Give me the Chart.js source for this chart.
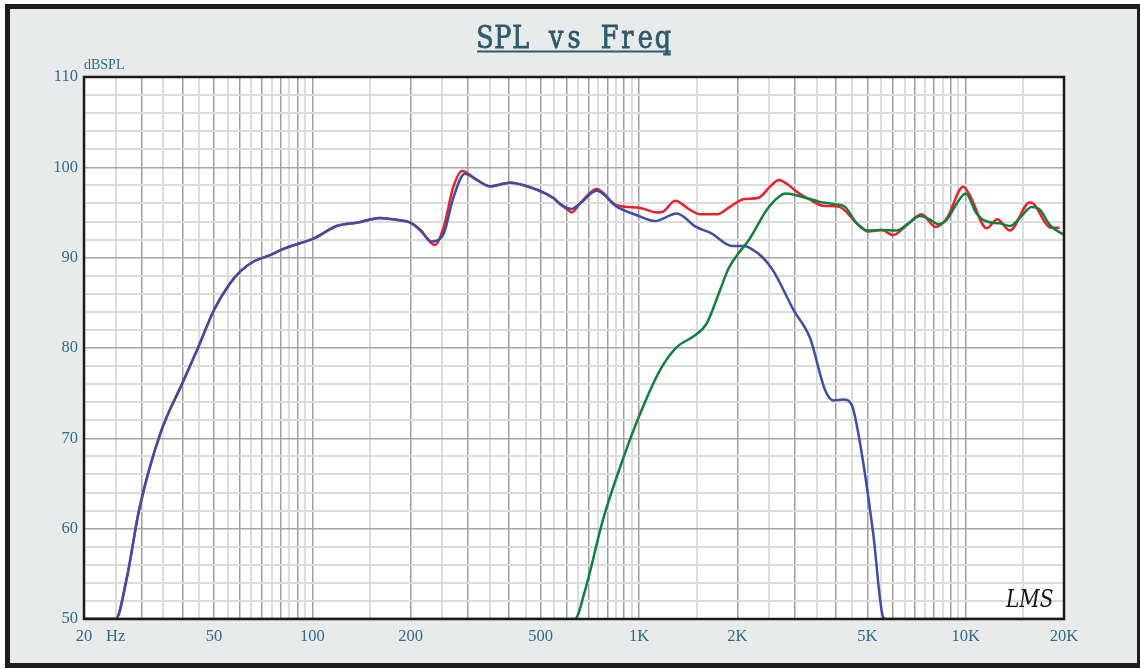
<!DOCTYPE html>
<html>
<head>
<meta charset="utf-8">
<title>SPL vs Freq</title>
<script src="https://cdn.jsdelivr.net/npm/chart.js@4.4.1/dist/chart.umd.min.js"></script>
<style>
	html, body { margin: 0; padding: 0; background: #fff; }
	#cutie { width: 1140px; height: 669px; position: relative; }
</style>
</head>
<body>
<div id="cutie"><canvas id="grafic-spl"></canvas></div>
<script>
// valori (Hz, dBSPL)
const frecvTotal = [20, 25, 27.1, 29.5, 34.3, 40, 44.4, 50, 55.6, 60.3, 66.3, 74.6, 81.9, 91.7, 100.7, 118.7, 138, 161, 181, 199, 214, 237, 252, 270, 287, 319, 350, 403, 464, 547, 573, 601, 622, 660, 742, 854, 1008, 1137, 1187, 1290, 1432, 1540, 1736, 1902, 2099, 2310, 2540, 2680, 2830, 3040, 3330, 3650, 4000, 4200, 4640, 5035, 5530, 6000, 6600, 7330, 8100, 8750, 9830, 10300, 11600, 12500, 13660, 15700, 16100, 18100, 19400];
const splTotal = [50, 50, 54.7, 62.1, 70.6, 76.1, 79.8, 84.2, 87.0, 88.5, 89.6, 90.3, 91.0, 91.6, 92.1, 93.5, 93.9, 94.4, 94.2, 93.9, 93.0, 91.4, 93.3, 97.8, 99.6, 98.6, 97.9, 98.3, 97.8, 96.6, 95.9, 95.4, 95.0, 96.0, 97.6, 95.8, 95.5, 95.0, 95.1, 96.3, 95.3, 94.8, 94.8, 95.65, 96.5, 96.6, 98.0, 98.6, 98.2, 97.3, 96.45, 95.75, 95.7, 95.45, 93.8, 92.9, 93.05, 92.5, 93.6, 94.8, 93.4, 94.35, 97.85, 96.9, 93.25, 94.25, 93.0, 96.1, 96.0, 93.35, 93.3];

const frecvWoofer = [20, 25, 27.1, 29.5, 34.3, 40, 44.4, 50, 55.6, 60.3, 66.3, 74.6, 81.9, 91.7, 100.7, 118.7, 138, 161, 181, 199, 214, 232, 252, 270, 293, 319, 350, 403, 464, 547, 573, 601, 622, 660, 742, 854, 984, 1120, 1305, 1495, 1666, 1925, 2099, 2200, 2380, 2572, 2974, 3339, 3712, 3934, 4226, 4479, 4750, 5210, 5590, 5700, 20000];
const splWoofer = [50, 50, 54.7, 62.1, 70.6, 76.1, 79.8, 84.2, 87.0, 88.5, 89.6, 90.3, 91.0, 91.6, 92.1, 93.5, 93.9, 94.4, 94.2, 93.9, 93.1, 91.8, 92.6, 96.6, 99.3, 98.6, 97.9, 98.3, 97.8, 96.6, 96.0, 95.5, 95.4, 96.0, 97.4, 95.65, 94.7, 94.05, 94.9, 93.4, 92.7, 91.3, 91.3, 91.0, 90.1, 88.6, 84.2, 81.1, 75.35, 74.2, 74.3, 73.7, 69.45, 59.5, 50.2, 50, 50];

const frecvTweeter = [20, 636, 684, 776, 899, 1010, 1162, 1305, 1470, 1610, 1770, 1880, 1990, 2182, 2462, 2680, 2815, 3149, 3557, 4020, 4268, 4638, 5035, 5530, 6150, 6680, 7250, 7780, 8250, 8750, 9390, 10000, 10800, 11600, 12740, 13660, 14660, 15920, 16870, 18120, 20000];
const splTweeter = [50, 50, 53.2, 61.0, 68.0, 72.8, 77.6, 80.1, 81.3, 82.7, 86.4, 88.8, 90.2, 92.1, 95.3, 96.75, 97.1, 96.75, 96.2, 95.9, 95.65, 93.8, 93.0, 93.05, 93.0, 93.8, 94.6, 94.2, 93.7, 94.2, 96.0, 97.1, 94.9, 94.0, 93.8, 93.5, 94.4, 95.6, 95.3, 93.6, 92.5];

// etichete axa X
const frecvEtichete = [20, 25, 50, 100, 200, 500, 1000, 2000, 5000, 10000, 20000];
const textEtichete = ['20', 'Hz', '50', '100', '200', '500', '1K', '2K', '5K', '10K', '20K'];

// liniile verticale ale grilei: 20..95 din 5 in 5, 100..950 din 50 in 50 etc.
let frecvGrila = [];
for (let dec = 10; dec <= 10000; dec *= 10) {
	for (let m = 1; m < 10; m += 0.5) {
		const f = Math.round(m * dec);
		if (f >= 20 && f <= 20000) frecvGrila.push(f);
	}
}

const culoareText = '#2f6b8a';

function puncte(frecv, spl) {
	return frecv.map((f, i) => ({ x: f, y: spl[i] }));
}

function ePrincipala(f) {
	const p = Math.pow(10, Math.floor(Math.log10(f) + 1e-9));
	return Math.abs(f / p - Math.round(f / p)) < 1e-6;
}

const decor = {
	id: 'decor',
	beforeDraw(chart) {
		const ctx = chart.ctx, a = chart.chartArea;
		ctx.save();
		ctx.fillStyle = '#ffffff';
		ctx.fillRect(0, 0, chart.width, chart.height);
		ctx.fillStyle = '#e9ebea';
		ctx.fillRect(7.5, 6.5, 1132, 659);
		ctx.lineWidth = 5;
		ctx.strokeStyle = '#1f1d1e';
		ctx.strokeRect(7.5, 6.5, 1132, 659);
		ctx.fillStyle = '#ffffff';
		ctx.fillRect(a.left, a.top, a.right - a.left, a.bottom - a.top);
		ctx.restore();
	},
	afterDraw(chart) {
		const ctx = chart.ctx, a = chart.chartArea;
		ctx.save();
		// rama zonei de desen
		ctx.lineWidth = 2.5;
		ctx.strokeStyle = '#1a1a1a';
		ctx.strokeRect(a.left, a.top, a.right - a.left, a.bottom - a.top);

		// titlul, litera cu litera ca la un font monospace, subliniat
		const titlu = 'SPL vs Freq';
		const pas = 17.8;
		const lat = pas * titlu.length;
		const x0 = (a.left + a.right) / 2 - lat / 2;
		ctx.font = '31px "DejaVu Serif"';
		ctx.fillStyle = '#2f5a6f';
		ctx.strokeStyle = '#2f5a6f';
		ctx.lineWidth = 0.9;
		ctx.textAlign = 'center';
		ctx.textBaseline = 'alphabetic';
		for (let i = 0; i < titlu.length; i++) {
			ctx.save();
			ctx.translate(x0 + pas * (i + 0.5), 48);
			ctx.scale(0.82, 1);
			ctx.fillText(titlu[i], 0, 0);
			ctx.strokeText(titlu[i], 0, 0);
			ctx.restore();
		}
		ctx.fillRect(x0 + 1, 50.5, lat - 2, 2);

		// unitatea axei Y
		ctx.textAlign = 'left';
		ctx.font = '14px "Liberation Serif"';
		ctx.fillStyle = culoareText;
		ctx.fillText('dBSPL', a.left, 69);

		// sigla
		ctx.font = 'italic 25px "DejaVu Serif"';
		ctx.fillStyle = '#111';
		ctx.save();
		ctx.translate(1006, 607);
		ctx.scale(0.8, 1);
		ctx.fillText('LMS', 0, 0);
		ctx.restore();
		ctx.restore();
	}
};

new Chart(
	document.getElementById('grafic-spl'),
	{
		type: 'line',
		data: {
			datasets: [
				{
					label: 'Tweeter',
					data: puncte(frecvTweeter, splTweeter),
					borderColor: '#11803d',
					order: 1
				},
				{
					label: 'Woofer',
					data: puncte(frecvWoofer, splWoofer),
					borderColor: '#3d4fa5',
					order: 2
				},
				{
					label: 'Total',
					data: puncte(frecvTotal, splTotal),
					borderColor: '#e8212b',
					order: 3
				}
			]
		},
		options: {
			responsive: true,
			maintainAspectRatio: false,
			animation: false,
			layout: { padding: { top: 77, right: 76, left: 0, bottom: 0 } },
			elements: {
				point: { radius: 0 },
				line: { borderWidth: 2.5, cubicInterpolationMode: 'monotone', fill: false }
			},
			plugins: {
				legend: { display: false },
				tooltip: { enabled: false },
				title: { display: false }
			},
			scales: {
				x: {
					type: 'logarithmic',
					min: 20,
					max: 20000,
					afterBuildTicks: (axa) => { axa.ticks = frecvGrila.map(v => ({ value: v })); },
					afterFit: (axa) => { axa.height = 50; },
					border: { display: false },
					grid: {
						drawTicks: false,
						color: (c) => ePrincipala(c.tick.value) ? '#9e9e9e' : '#dcdcdc',
						lineWidth: (c) => ePrincipala(c.tick.value) ? 1.5 : 2
					},
					ticks: {
						autoSkip: false,
						maxRotation: 0,
						padding: 8,
						color: culoareText,
						font: { family: '"Liberation Serif"', size: 16.5 },
						callback: (v) => {
							const i = frecvEtichete.indexOf(Math.round(v));
							return i >= 0 ? textEtichete[i] : '';
						}
					}
				},
				y: {
					min: 50,
					max: 110,
					afterFit: (axa) => { axa.width = 84; },
					border: { display: false },
					grid: {
						drawTicks: false,
						color: (c) => c.tick.value % 10 === 0 ? '#a6a6a6' : '#dcdcdc',
						lineWidth: (c) => c.tick.value % 10 === 0 ? 1.5 : 2
					},
					ticks: {
						stepSize: 2,
						autoSkip: false,
						padding: 6,
						color: culoareText,
						font: { family: '"Liberation Serif"', size: 16.5 },
						callback: (v) => v % 10 === 0 ? String(v) : ''
					}
				}
			}
		},
		plugins: [decor]
	}
);
</script>
</body>
</html>
